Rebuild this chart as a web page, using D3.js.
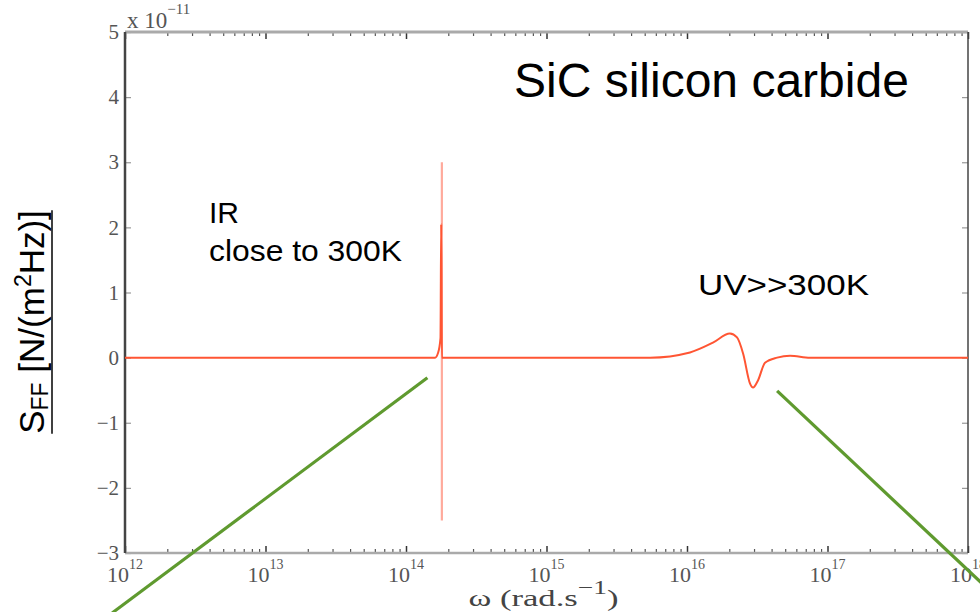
<!DOCTYPE html>
<html>
<head>
<meta charset="utf-8">
<script src="https://cdn.jsdelivr.net/npm/d3@7"></script>
<style>
  body { margin: 0; background: #fff; }
  .tick text { font-family: "Liberation Serif", "DejaVu Serif", serif; fill: #555; }
</style>
</head>
<body>
<div id="chart-area"></div>
<script>
// force spectrum S_FF (x 1e-11) vs omega
var omega = [1e12, 1.0e14, 1.61e14, 1.69e14, 1.76e14, 1.78e14, 1.80e14, 1.84e14, 1e15,
             5.46e15, 1.05e16, 1.53e16, 2.02e16, 2.27e16, 2.51e16, 2.81e16, 2.95e16,
             3.20e16, 3.59e16, 4.38e16, 5.41e16, 7.50e16, 1.45e17, 1e18];
var sff   = [0, 0, 0, 0.07, 0.3, 2.05, 0, 0, 0,
             0, 0.08, 0.23, 0.37, 0.31, 0.06, -0.4, -0.46,
             -0.35, -0.08, 0, 0.03, 0, 0, 0];

// thin resonance line (drawn faint, aliased in the original)
var spikeOmega = [1.80e14, 1.80e14];
var spikeSff   = [3.0, -2.5];

// green annotation lines [omega, S] start -> end
var pointerIR = [[1.42e14, -0.31], [8.1e11, -3.92]];
var pointerUV = [[4.38e16, -0.51], [1.32e18, -3.51]];

var xExponents = [12, 13, 14, 15, 16, 17, 18];
var yTicks = [-3, -2, -1, 0, 1, 2, 3, 4, 5];

var margin = { left: 125, right: 12, top: 32, bottom: 59 };
var W = 980, H = 612;
var width = W - margin.left - margin.right;
var height = H - margin.top - margin.bottom;

var svg = d3.select("#chart-area").append("svg")
  .attr("width", W).attr("height", H);
var g = svg.append("g")
  .attr("transform", "translate(" + margin.left + "," + margin.top + ")");

var x = d3.scaleLog().domain([1e12, 1e18]).range([0, width]);
var y = d3.scaleLinear().domain([-3, 5]).range([height, 0]);

var majors = xExponents.map(function(e) { return Math.pow(10, e); });
var minors = x.ticks().filter(function(v) {
  return majors.indexOf(v) < 0;
});

function styleAxis(sel, col, w) {
  sel.select(".domain").remove();
  sel.selectAll(".tick line").attr("stroke", col).attr("stroke-width", w);
}

// x ticks bottom (inward) and top
g.append("g").attr("transform", "translate(0," + height + ")")
  .call(d3.axisBottom(x).tickValues(majors).tickSize(-7).tickFormat(""))
  .call(styleAxis, "#333", 1.5);
g.append("g").attr("transform", "translate(0," + height + ")")
  .call(d3.axisBottom(x).tickValues(minors).tickSize(-4).tickFormat(""))
  .call(styleAxis, "#555", 1.2);
g.append("g")
  .call(d3.axisTop(x).tickValues(majors).tickSize(-7).tickFormat(""))
  .call(styleAxis, "#333", 1.5);
g.append("g")
  .call(d3.axisTop(x).tickValues(minors).tickSize(-4).tickFormat(""))
  .call(styleAxis, "#555", 1.2);

// y ticks left with labels, right without
g.append("g")
  .call(d3.axisLeft(y).tickValues(yTicks).tickSize(-6).tickPadding(6))
  .call(styleAxis, "#999", 1.2)
  .selectAll("text").attr("font-size", 21);
g.append("g").attr("transform", "translate(" + width + ",0)")
  .call(d3.axisRight(y).tickValues(yTicks).tickSize(-6).tickFormat(""))
  .call(styleAxis, "#999", 1.2);

// frame
g.append("line").attr("x1", 0).attr("x2", width).attr("y1", 0).attr("y2", 0)
  .attr("stroke", "#aaa").attr("stroke-width", 3);
g.append("line").attr("x1", 0).attr("x2", width).attr("y1", height).attr("y2", height)
  .attr("stroke", "#aaa").attr("stroke-width", 2.5);
g.append("line").attr("x1", 0).attr("x2", 0).attr("y1", 0).attr("y2", height)
  .attr("stroke", "#444").attr("stroke-width", 2.5);
g.append("line").attr("x1", width).attr("x2", width).attr("y1", 0).attr("y2", height)
  .attr("stroke", "#444").attr("stroke-width", 1.5);

// x tick labels 10^n
var xl = g.selectAll(".xlab").data(xExponents).enter().append("text")
  .attr("class", "xlab")
  .attr("x", function(d) { return x(Math.pow(10, d)); })
  .attr("y", height + 29)
  .attr("text-anchor", "middle")
  .attr("font-family", "Liberation Serif, serif")
  .attr("font-size", 22).attr("fill", "#555");
xl.append("tspan").text("10");
xl.append("tspan").attr("dy", -13).attr("font-size", 14)
  .text(function(d) { return d; });

// exponent multiplier at top-left
var mult = g.append("text").attr("x", 2).attr("y", -4)
  .attr("font-family", "Liberation Serif, serif")
  .attr("font-size", 23).attr("fill", "#555");
mult.append("tspan").text("x 10");
mult.append("tspan").attr("dy", -14).attr("font-size", 15).text("\u221211");

// x axis label
var xt = g.append("text").attr("x", width / 2 - 3).attr("y", height + 53)
  .attr("text-anchor", "middle")
  .attr("font-family", "Liberation Serif, serif")
  .attr("font-size", 24).attr("fill", "#444");
xt.append("tspan").text("\u03c9 (rad.s");
xt.append("tspan").attr("dy", -12).attr("font-size", 19).text("\u22121");
xt.append("tspan").attr("dy", 12).text(")");
xt.attr("textLength", 150).attr("lengthAdjust", "spacingAndGlyphs");

// y axis label
var yt = svg.append("g").attr("transform", "translate(44,322) rotate(-90)");
var ytxt = yt.append("text").attr("text-anchor", "middle")
  .attr("font-family", "Liberation Sans, Arial, sans-serif")
  .attr("font-size", 35).attr("fill", "#000");
ytxt.append("tspan").text("S");
ytxt.append("tspan").attr("font-size", 23).attr("dy", 4).text("FF");
ytxt.append("tspan").attr("dy", -4).text(" [N/(m");
ytxt.append("tspan").attr("font-size", 23).attr("dy", -13).text("2");
ytxt.append("tspan").attr("dy", 13).text("Hz)]");
var bb = ytxt.node().getBBox();
yt.append("line").attr("x1", bb.x).attr("x2", bb.x + bb.width)
  .attr("y1", 8).attr("y2", 8).attr("stroke", "#000").attr("stroke-width", 1.5);

// data line
var line = d3.line()
  .x(function(d) { return x(d[0]); })
  .y(function(d) { return y(d[1]); })
  .curve(d3.curveMonotoneX);

g.append("path")
  .datum(spikeOmega.map(function(o, i) { return [o, spikeSff[i]]; }))
  .attr("d", d3.line().x(function(d) { return x(d[0]); }).y(function(d) { return y(d[1]); }))
  .attr("stroke", "#ffaa9c").attr("stroke-width", 2.2).attr("fill", "none");

g.append("path")
  .datum(omega.map(function(o, i) { return [o, sff[i]]; }))
  .attr("d", line)
  .attr("stroke", "#ff5533").attr("stroke-width", 2).attr("fill", "none");

// annotation pointers
[pointerIR, pointerUV].forEach(function(p) {
  g.append("line")
    .attr("x1", x(p[0][0])).attr("y1", y(p[0][1]))
    .attr("x2", x(p[1][0])).attr("y2", y(p[1][1]))
    .attr("stroke", "#5f9a2f").attr("stroke-width", 3.2);
});

// annotations
var ann = svg.append("g")
  .attr("font-family", "Liberation Sans, Arial, sans-serif").attr("fill", "#000");
ann.append("text").attr("x", 514).attr("y", 97).attr("font-size", 48)
  .text("SiC silicon carbide");
ann.append("text").attr("x", 209).attr("y", 223).attr("font-size", 30).text("IR");
ann.append("text").attr("x", 209).attr("y", 261).attr("font-size", 30)
  .attr("textLength", 193).attr("lengthAdjust", "spacingAndGlyphs").text("close to 300K");
ann.append("text").attr("x", 698).attr("y", 295).attr("font-size", 30)
  .attr("textLength", 171).attr("lengthAdjust", "spacingAndGlyphs").text("UV>>300K");
</script>
</body>
</html>
